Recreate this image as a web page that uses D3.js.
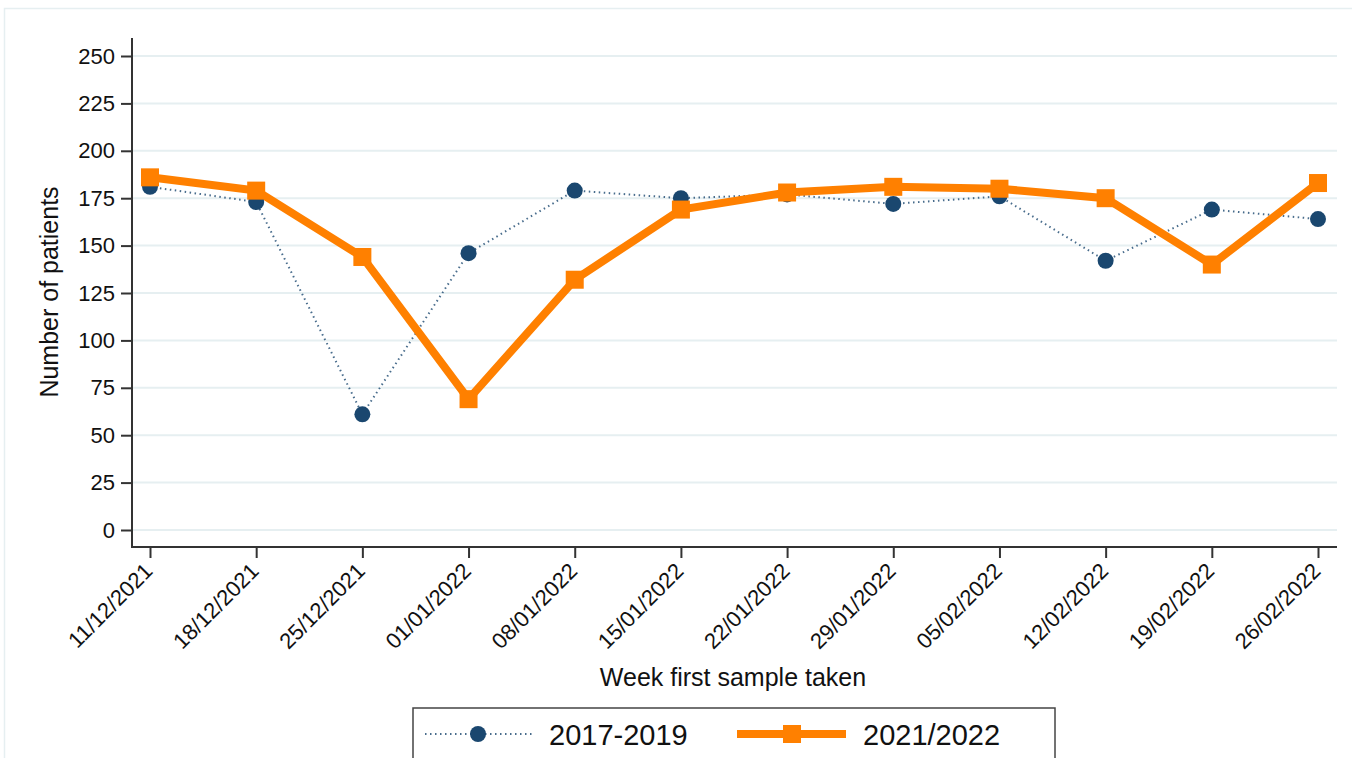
<!DOCTYPE html>
<html>
<head>
<meta charset="utf-8">
<script src="https://cdn.jsdelivr.net/npm/d3@7"></script>
<style>
  body { margin: 0; background: #fff; }
  svg { display: block; font-family: "Liberation Sans", Arial, sans-serif; }
</style>
</head>
<body>
<svg id="chart" width="1352" height="758"></svg>
<script>
const weeks = ["11/12/2021","18/12/2021","25/12/2021","01/01/2022","08/01/2022","15/01/2022","22/01/2022","29/01/2022","05/02/2022","12/02/2022","19/02/2022","26/02/2022"];
const series2017 = [181,173,61,146,179,175,177,172,176,142,169,164];
const series2021 = [186,179,144,69,132,169,178,181,180,175,140,183];
const yTicks = [0,25,50,75,100,125,150,175,200,225,250];
const seriesNames = ["2017-2019","2021/2022"];

const svg = d3.select("#chart");
const navy = "#1a476f", orange = "#ff8000", grid = "#e6eff1";

// outer border
svg.append("rect").attr("x",4.5).attr("y",8.5).attr("width",1360).attr("height",760)
  .attr("fill","none").attr("stroke",grid).attr("stroke-width",1.5);

const left = 132, bottom = 547, right = 1337;
const x = d3.scalePoint().domain(weeks).range([150, 1318]);
const y = d3.scaleLinear().domain([0,250]).range([530, 56]);

// gridlines
svg.append("g").selectAll("line").data(yTicks).join("line")
  .attr("x1", left+1).attr("x2", right).attr("y1", d=>y(d)).attr("y2", d=>y(d))
  .attr("stroke", grid).attr("stroke-width", 2);

// y axis
const yAxis = svg.append("g").attr("transform", `translate(${left},0)`)
  .call(d3.axisLeft(y).tickValues(yTicks).tickSize(11).tickPadding(6));
yAxis.select(".domain").remove();
yAxis.append("line").attr("x1",0).attr("x2",0).attr("y1",38).attr("y2",bottom+1)
  .attr("stroke","#333").attr("stroke-width",2);
yAxis.selectAll(".tick line").attr("stroke","#333").attr("stroke-width",2);
yAxis.selectAll(".tick text").attr("font-size",22).attr("fill","#111")
  .attr("font-family","Liberation Sans, Arial, sans-serif");

// x axis
const xAxis = svg.append("g").attr("transform", `translate(0,${bottom})`)
  .call(d3.axisBottom(x).tickSize(11).tickPadding(4));
xAxis.select(".domain").remove();
xAxis.append("line").attr("x1",left-1).attr("x2",right).attr("y1",0).attr("y2",0)
  .attr("stroke","#333").attr("stroke-width",2);
xAxis.selectAll(".tick line").attr("stroke","#333").attr("stroke-width",2);
xAxis.selectAll(".tick text").attr("font-size",22).attr("fill","#111")
  .attr("font-family","Liberation Sans, Arial, sans-serif")
  .attr("text-anchor","end").attr("dy","0.35em")
  .attr("transform","translate(-2,20) rotate(-45)")
  .attr("y",0).attr("x",0);

// axis titles
svg.append("text").attr("transform","translate(58,292) rotate(-90)")
  .attr("text-anchor","middle").attr("font-size",25).attr("fill","#111")
  .text("Number of patients");
svg.append("text").attr("x",733).attr("y",686).attr("text-anchor","middle")
  .attr("font-size",25).attr("fill","#111").text("Week first sample taken");

// 2017-2019 dotted line
const line = d3.line().x((d,i)=>x(weeks[i])).y(d=>y(d));
svg.append("path").datum(series2017).attr("d", line).attr("fill","none")
  .attr("stroke", navy).attr("stroke-width",2).attr("stroke-dasharray","1.5 3.5").attr("opacity",0.8);

// 2021/2022 line
svg.append("path").datum(series2021).attr("d", line).attr("fill","none")
  .attr("stroke", orange).attr("stroke-width",8).attr("stroke-linejoin","miter");

svg.append("g").selectAll("circle").data(series2017).join("circle")
  .attr("cx",(d,i)=>x(weeks[i])).attr("cy",d=>y(d)).attr("r",8).attr("fill",navy);

svg.append("g").selectAll("rect").data(series2021).join("rect")
  .attr("x",(d,i)=>x(weeks[i])-9).attr("y",d=>y(d)-9).attr("width",18).attr("height",18).attr("fill",orange);

// legend
const lg = svg.append("g");
lg.append("rect").attr("x",413).attr("y",708).attr("width",642).attr("height",80)
  .attr("fill","#fff").attr("stroke","#444").attr("stroke-width",1.5);
lg.append("line").attr("x1",425).attr("x2",532).attr("y1",734).attr("y2",734)
  .attr("stroke",navy).attr("stroke-width",2).attr("stroke-dasharray","1.5 3.5").attr("opacity",0.8);
lg.append("circle").attr("cx",478).attr("cy",734).attr("r",8).attr("fill",navy);
lg.append("text").attr("x",549).attr("y",745).attr("font-size",29).attr("fill","#111").text(seriesNames[0]);
lg.append("line").attr("x1",737).attr("x2",846).attr("y1",734).attr("y2",734)
  .attr("stroke",orange).attr("stroke-width",8);
lg.append("rect").attr("x",783).attr("y",725).attr("width",18).attr("height",18).attr("fill",orange);
lg.append("text").attr("x",863).attr("y",745).attr("font-size",29).attr("fill","#111").text(seriesNames[1]);
</script>
</body>
</html>
